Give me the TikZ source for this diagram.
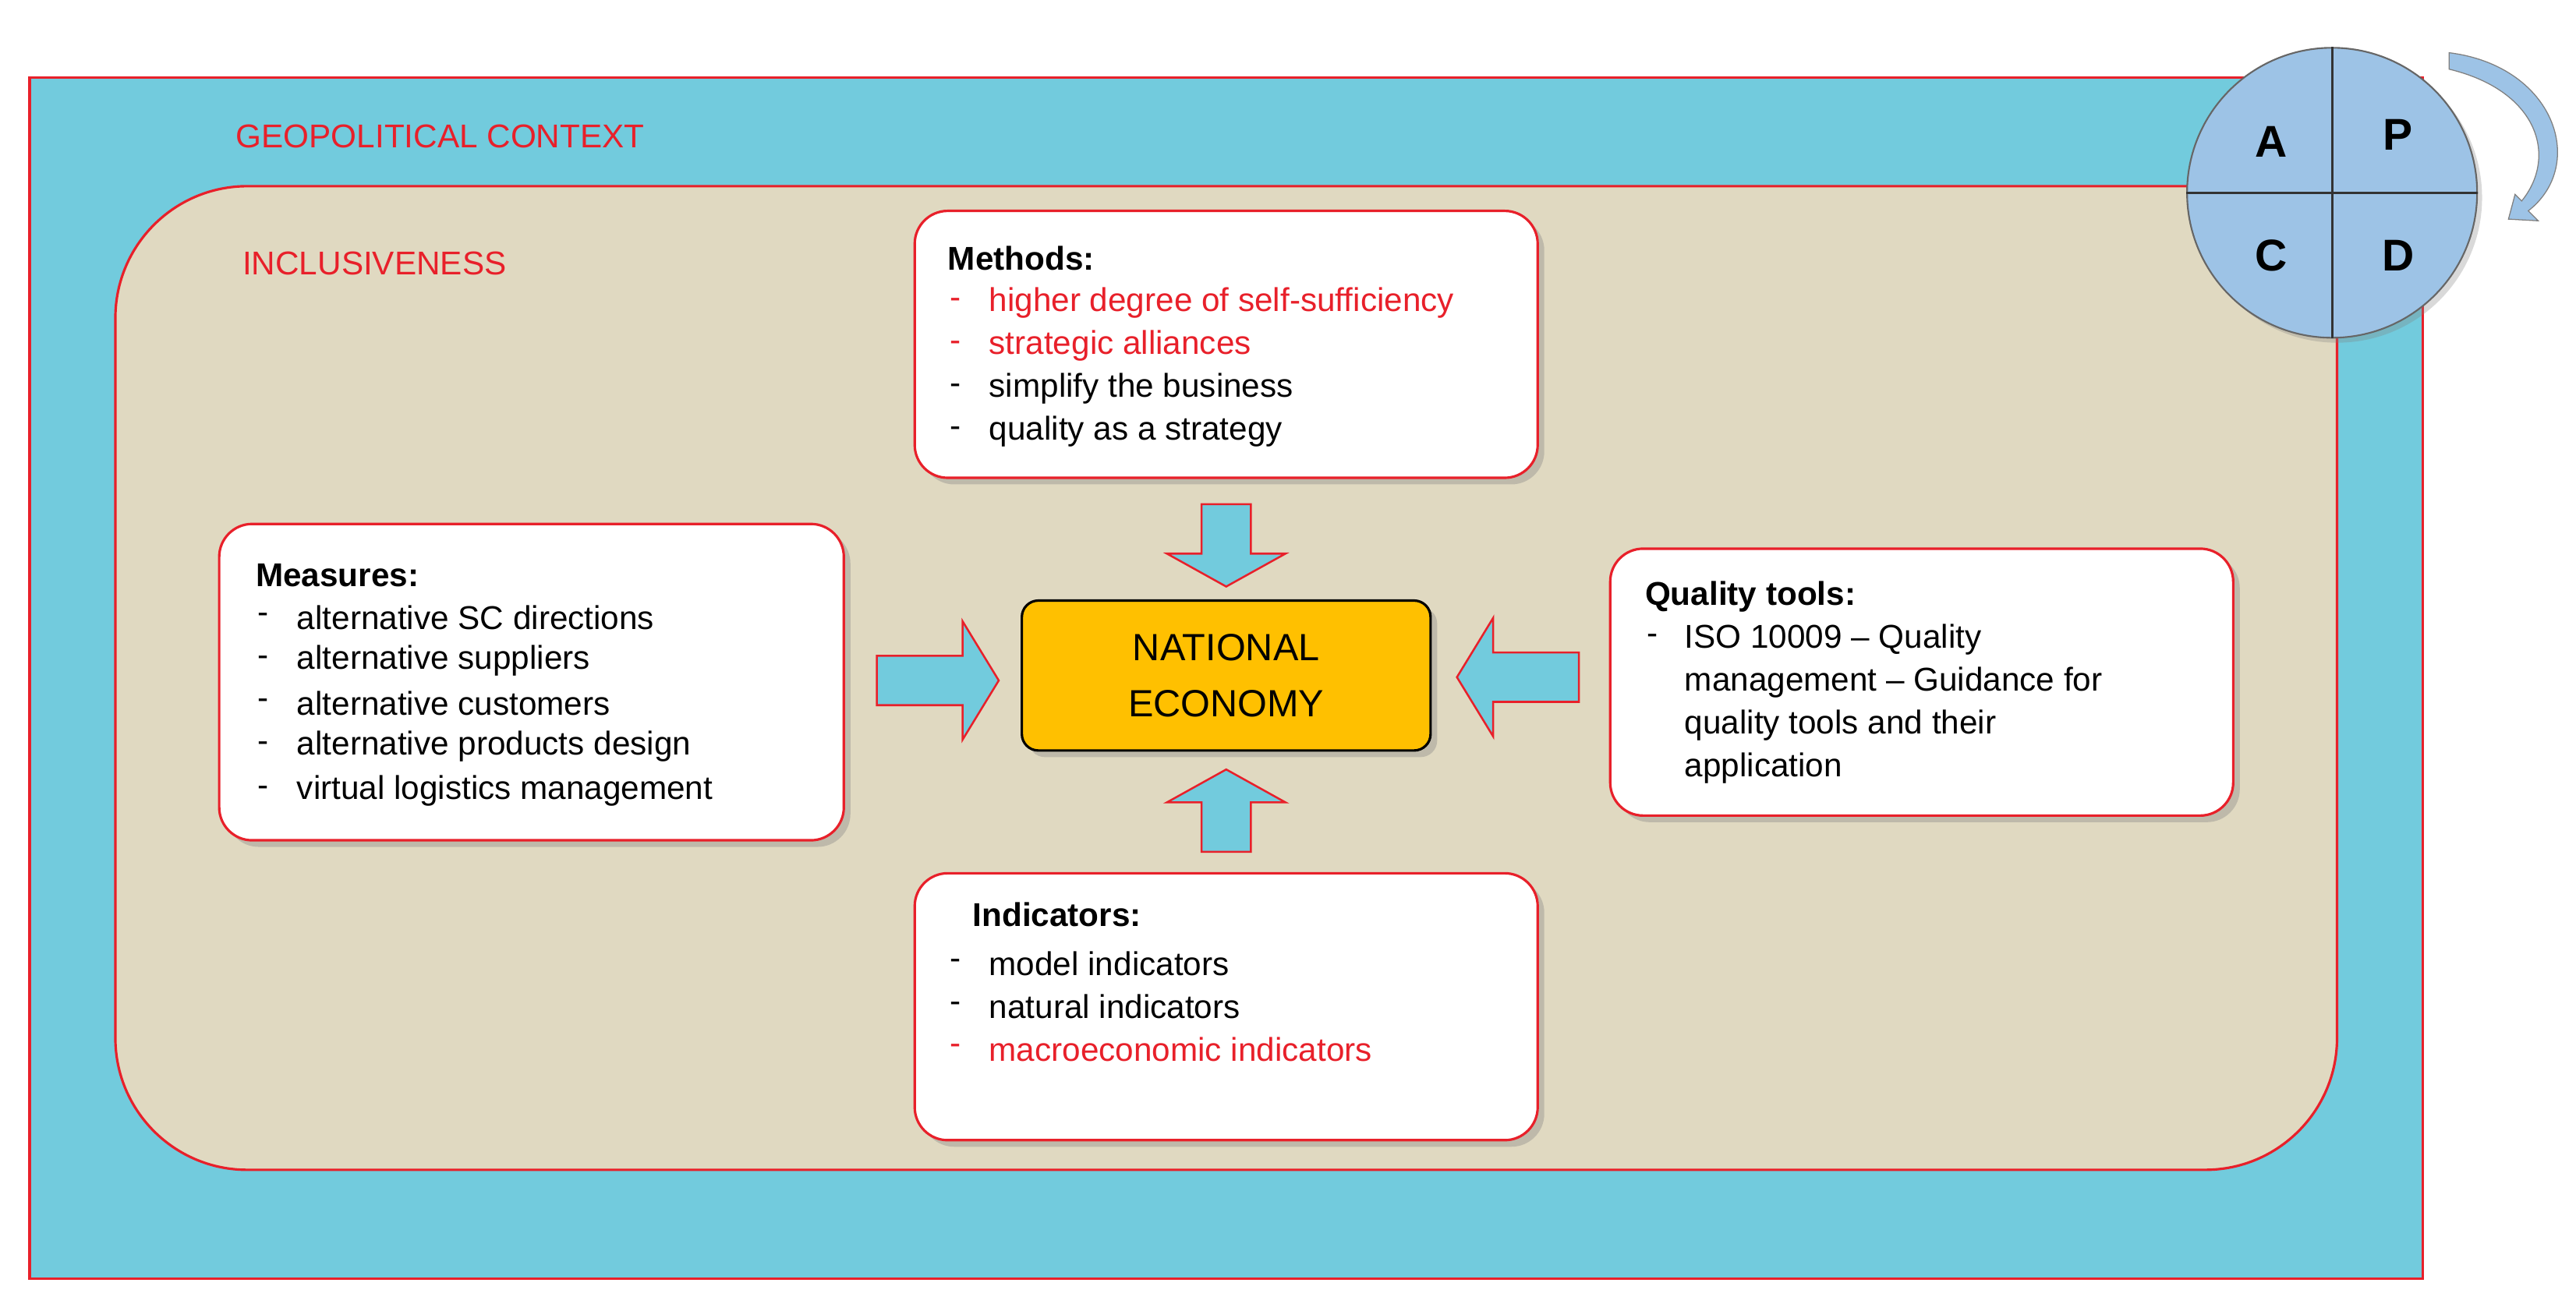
\documentclass[tikz,border=0pt]{standalone}
\usepackage{fontspec}
\setmainfont{Liberation Sans}
\usetikzlibrary{shadows,arrows.meta}
\definecolor{cy}{HTML}{72CBDD}
\definecolor{beige}{HTML}{E0D9C1}
\definecolor{rd}{HTML}{E8202A}
\definecolor{orng}{HTML}{FFC000}
\definecolor{pd}{HTML}{9DC3E6}
\begin{document}
\begin{tikzpicture}[x=1pt,y=-1pt,
 box/.style={draw=rd,line width=1.5pt,fill=white,rounded corners=20pt,drop shadow={shadow xshift=4pt,shadow yshift=-4pt,opacity=0.35}},
 t/.style={anchor=west,font=\fontsize{20}{22}\selectfont,inner sep=0pt},
 h/.style={t,font=\fontsize{20}{22}\selectfont\bfseries},
 r/.style={text=rd},
 barrow/.style={draw=rd,line width=1.2pt,fill=cy}]
\useasboundingbox (0,0) rectangle (1563,791);
\draw[draw=rd,line width=1.5pt,fill=cy] (18,47) rectangle (1470,776);
\draw[draw=rd,line width=1.5pt,fill=beige,rounded corners=80pt] (70,113) rectangle (1418,710);
\node[t,r] (geo) at (143,83) {GEOPOLITICAL CONTEXT};
\node[t,r] (inc) at (147,160) {INCLUSIVENESS};
% boxes
\draw[box] (555,128) rectangle (933,290);
\draw[box] (133,318) rectangle (512,510);
\draw[box] (977,333) rectangle (1355,495);
\draw[box] (555,530) rectangle (933,692);
\node[draw=black,line width=1.5pt,fill=orng,rounded corners=10pt,minimum width=248pt,minimum height=91pt,align=center,font=\fontsize{23}{34}\selectfont,drop shadow={shadow xshift=4pt,shadow yshift=-4pt,opacity=0.35}] (ne) at (744,410) {NATIONAL\\ECONOMY};
% Methods
\node[h] (mh) at (575,157) {Methods:};
\foreach \y/\s/\c in {184/higher degree of self-sufficiency/rd,210/strategic alliances/rd,236/simplify the business/black,262/quality as a strategy/black}{
 \node[t,text=\c] at (576,\y) {-}; \node[t,text=\c] at (600,\y) {\s};}
% Measures
\node[h] (msh) at (155,349) {Measures:};
\foreach \y/\s in {375/alternative SC directions,401/alternative suppliers,427/alternative customers,453/alternative products design,480/virtual logistics management}{
 \node[t] at (156,\y) {-}; \node[t] at (180,\y) {\s};}
% Quality tools
\node[h] (qh) at (998,362) {Quality tools:};
\node[t] at (999,388) {-};
\foreach \y/\s in {388/ISO 10009 -- Quality,414/management -- Guidance for,440/quality tools and their,466/application}{
 \node[t] at (1022,\y) {\s};}
% Indicators
\node[h] (ih) at (590,555) {Indicators:};
\foreach \y/\s/\c in {585/model indicators/black,611/natural indicators/black,637/macroeconomic indicators/rd}{
 \node[t,text=\c] at (576,\y) {-}; \node[t,text=\c] at (600,\y) {\s};}
% block arrows
\draw[barrow] (729,306)--(759,306)--(759,336)--(780,336)--(744,356)--(708,336)--(729,336)--cycle;
\draw[barrow] (729,517)--(759,517)--(759,487)--(780,487)--(744,467)--(708,487)--(729,487)--cycle;
\draw[barrow] (532,398)--(584,398)--(584,377)--(606,413)--(584,449)--(584,428)--(532,428)--cycle;
\draw[barrow] (958,396)--(906,396)--(906,375)--(884,411)--(906,447)--(906,426)--(958,426)--cycle;
% PDCA
\node[circle,draw=black!60,line width=1pt,fill=pd,minimum size=176pt,inner sep=0pt,drop shadow={shadow xshift=3pt,shadow yshift=-3pt,opacity=0.3}] (pdca) at (1415,117) {};
\draw[black!80,line width=1.5pt] (pdca.north)--(pdca.south) (pdca.west)--(pdca.east);
\node[font=\fontsize{27}{30}\selectfont\bfseries] at (1378,86) {A};
\node[font=\fontsize{27}{30}\selectfont\bfseries] at (1455,82) {P};
\node[font=\fontsize{27}{30}\selectfont\bfseries] at (1378,155) {C};
\node[font=\fontsize{27}{30}\selectfont\bfseries] at (1455,155) {D};
\draw[draw=black!50,fill=pd,line width=0.6pt] (1486,32) .. controls (1550,40) and (1570,100) .. (1534,128) -- (1540,134) -- (1522,133) -- (1526,118) -- (1530,122) .. controls (1552,95) and (1540,55) .. (1486,42) -- cycle;
\end{tikzpicture}
\end{document}
